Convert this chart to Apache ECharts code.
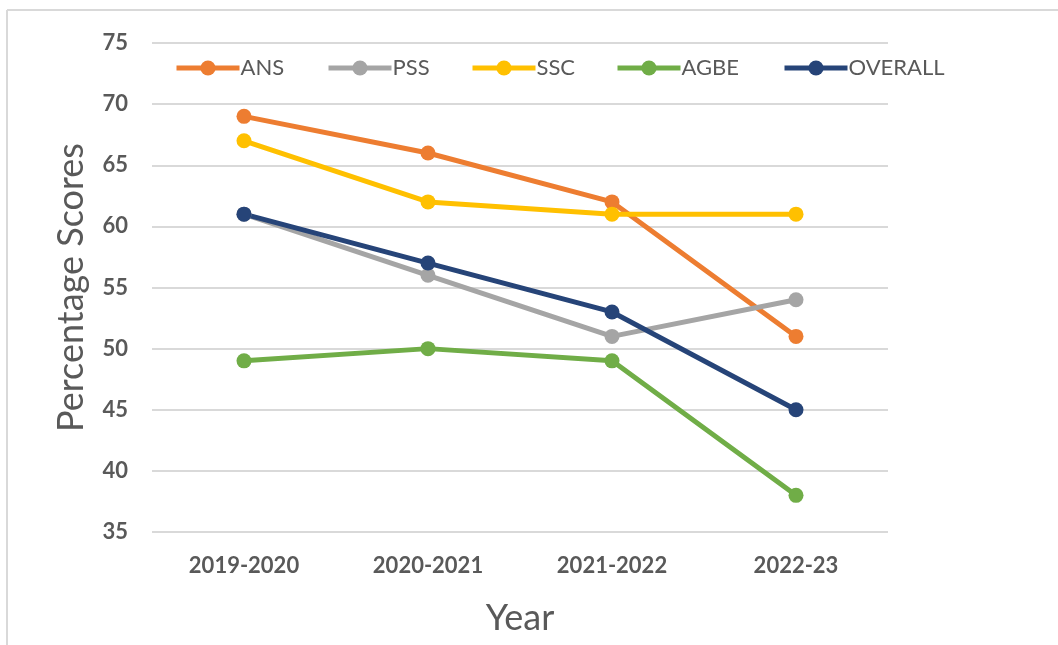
<!DOCTYPE html>
<html><head><meta charset="utf-8">
<script src="https://cdn.jsdelivr.net/npm/echarts@6/dist/echarts.min.js"></script>
<style>html,body{margin:0;padding:0;background:#fff}#c{width:1058px;height:645px}</style>
</head><body><div id="c"></div>
<script>
const categories = ['2019-2020', '2020-2021', '2021-2022', '2022-23'];
const seriesNames = ['ANS', 'PSS', 'SSC', 'AGBE', 'OVERALL'];
const ans = [69, 66, 62, 51];
const pss = [61, 56, 51, 54];
const ssc = [67, 62, 61, 61];
const agbe = [49, 50, 49, 38];
const overall = [61, 57, 53, 45];
const colors = ['#ED7D31', '#A5A5A5', '#FFC000', '#70AD47', '#264478'];
const values = [ans, pss, ssc, agbe, overall];
const legendLeft = [169, 321, 465, 610, 777];

const font = 'Lato, "Open Sans", sans-serif';
const chart = echarts.init(document.getElementById('c'));
chart.setOption({
  animation: false,
  color: colors,
  grid: {left: 152, right: 170, top: 43, bottom: 113},
  legend: seriesNames.map((n, i) => ({
    data: [n], left: legendLeft[i], top: 52, itemWidth: 63, itemHeight: 19, itemGap: 0,
    lineStyle: {width: 5},
    textStyle: {fontFamily: font, fontSize: 22, color: '#595959', padding: [0, 0, 0, -4]}
  })),
  xAxis: {
    type: 'category', data: categories,
    name: 'Year', nameLocation: 'middle', nameGap: 68,
    nameTextStyle: {fontFamily: font, fontSize: 36, color: '#595959'},
    axisLine: {show: false}, axisTick: {show: false},
    axisLabel: {fontFamily: font, fontSize: 22, fontWeight: 'bold', color: '#595959', margin: 23}
  },
  yAxis: {
    type: 'value', min: 35, max: 75, interval: 5,
    name: 'Percentage Scores', nameLocation: 'middle', nameGap: 63,
    nameTextStyle: {fontFamily: font, fontSize: 36, color: '#595959'},
    axisLine: {show: false}, axisTick: {show: false},
    splitLine: {lineStyle: {color: '#D9D9D9', width: 2}},
    axisLabel: {fontFamily: font, fontSize: 22, fontWeight: 'bold', color: '#595959', margin: 24}
  },
  series: seriesNames.map((n, i) => ({
    name: n, type: 'line', data: values[i],
    symbol: 'circle', symbolSize: 15,
    lineStyle: {width: 5, color: colors[i]},
    itemStyle: {color: colors[i]}
  })),
  graphic: [
    {type: 'line', shape: {x1: 7, y1: 10, x2: 1058, y2: 10}, style: {stroke: '#D9D9D9', lineWidth: 2}},
    {type: 'line', shape: {x1: 7, y1: 10, x2: 7, y2: 645}, style: {stroke: '#D9D9D9', lineWidth: 2}}
  ]
});
</script></body></html>
